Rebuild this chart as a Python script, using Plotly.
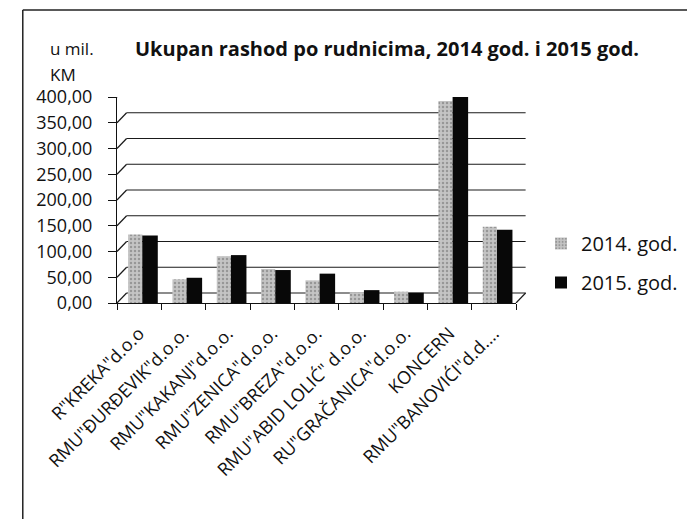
import plotly.graph_objects as go

# data (u mil. KM)
rudnici = ['R"KREKA"d.o.o', 'RMU"ĐURĐEVIK"d.o.o.', 'RMU"KAKANJ"d.o.o.', 'RMU"ZENICA"d.o.o.',
           'RMU"BREZA"d.o.o.', 'RMU"ABID LOLIĆ" d.o.o.', 'RU"GRAČANICA"d.o.o.', 'KONCERN',
           'RMU"BANOVIĆI"d.d....']
rashod_2014 = [133, 46, 91, 66, 44, 21, 22, 392, 148]
rashod_2015 = [131, 49, 93, 64, 57, 25, 20, 400, 142]
y_ticks = [0, 50, 100, 150, 200, 250, 300, 350, 400]

# page body has an 8px margin, so the figure is drawn a bit smaller
OFF = 8
W, H = 695 - OFF, 519 - OFF
L, R, T, B = 117 - OFF, 695 - 532, 97 - OFF, 519 - 303
PW, PH = W - L - R, H - T - B
DEPTH = 10  # pseudo 3d depth in px

FONT = "Open Sans"


def px_x(px):
    # reference pixel -> paper x
    return (px - OFF - L) / PW


def px_y(py):
    # reference pixel -> paper y
    return (H - B - (py - OFF)) / PH


fig = go.Figure()
# bars sit a bit right of the category centre, like the excel 3d columns
fig.add_trace(go.Bar(x=rudnici, y=rashod_2014, name="2014. god.", legendgroup="a",
                     width=0.32, offset=-0.25,
                     marker=dict(color="#c4c4c4", line=dict(width=0),
                                 pattern=dict(shape=".", fgcolor="#6a6a6a", size=4, solidity=0.3))))
fig.add_trace(go.Bar(x=rudnici, y=rashod_2015, name="2015. god.", legendgroup="b",
                     width=0.35, offset=0.07,
                     marker=dict(color="#080808", line=dict(width=0))))

# back wall gridlines + left diagonals
shapes = []
for v in y_ticks:
    shapes.append(dict(type="line", xref="paper", yref="y", ysizemode="pixel", yanchor=v,
                       x0=DEPTH / PW, x1=1 + DEPTH / PW, y0=DEPTH, y1=DEPTH,
                       line=dict(color="#1a1a1a", width=1.2), layer="below"))
    shapes.append(dict(type="line", xref="paper", yref="y", ysizemode="pixel", yanchor=v,
                       x0=0, x1=DEPTH / PW, y0=0, y1=DEPTH,
                       line=dict(color="#1a1a1a", width=1.2), layer="below"))
# floor right diagonal
shapes.append(dict(type="line", xref="paper", yref="y", ysizemode="pixel", yanchor=0,
                   x0=1, x1=1 + DEPTH / PW, y0=0, y1=DEPTH,
                   line=dict(color="#1a1a1a", width=1.2)))
# outer frame (left and top only, rest is cut off)
shapes.append(dict(type="line", xref="paper", yref="paper", x0=px_x(19), x1=px_x(19),
                   y0=px_y(10), y1=px_y(530), line=dict(color="#222", width=1.5)))
shapes.append(dict(type="line", xref="paper", yref="paper", x0=px_x(19), x1=px_x(710),
                   y0=px_y(10), y1=px_y(10), line=dict(color="#222", width=1.5)))

fig.update_layout(
    width=W, height=H,
    margin=dict(l=L, r=R, t=T, b=B),
    paper_bgcolor="white", plot_bgcolor="rgba(0,0,0,0)",
    separators=",.",
    font=dict(family=FONT, size=16, color="#111"),
    barmode="overlay",
    shapes=shapes,
    showlegend=True,
    legend=dict(x=px_x(558), y=px_y(224), xanchor="left", yanchor="top",
                font=dict(size=20), traceorder="grouped", tracegroupgap=10,
                bgcolor="rgba(0,0,0,0)"),
    annotations=[
        dict(text="<b>Ukupan rashod po rudnicima, 2014 god. i 2015 god.</b>",
             xref="paper", yref="paper", x=px_x(398), y=px_y(48), xanchor="center",
             yanchor="middle", showarrow=False, font=dict(size=20)),
        dict(text="u mil.", xref="paper", yref="paper", x=px_x(45), y=px_y(48),
             xanchor="left", yanchor="middle", showarrow=False, font=dict(size=17)),
        dict(text="KM", xref="paper", yref="paper", x=px_x(45), y=px_y(74),
             xanchor="left", yanchor="middle", showarrow=False, font=dict(size=17)),
    ],
)
fig.update_xaxes(showline=True, linecolor="#111", linewidth=1, ticks="outside",
                 tickson="boundaries", ticklen=6, tickcolor="#111", tickangle=-45,
                 showgrid=False, tickfont=dict(size=18), ticklabelstandoff=12)
fig.update_yaxes(range=[0, 400], tickvals=y_ticks, tickformat=".2f", showline=True,
                 linecolor="#111", linewidth=1, ticks="outside", ticklen=8,
                 tickcolor="#111", showgrid=False, zeroline=False,
                 tickfont=dict(size=18), ticklabelstandoff=12)

fig.write_html("out.html")
